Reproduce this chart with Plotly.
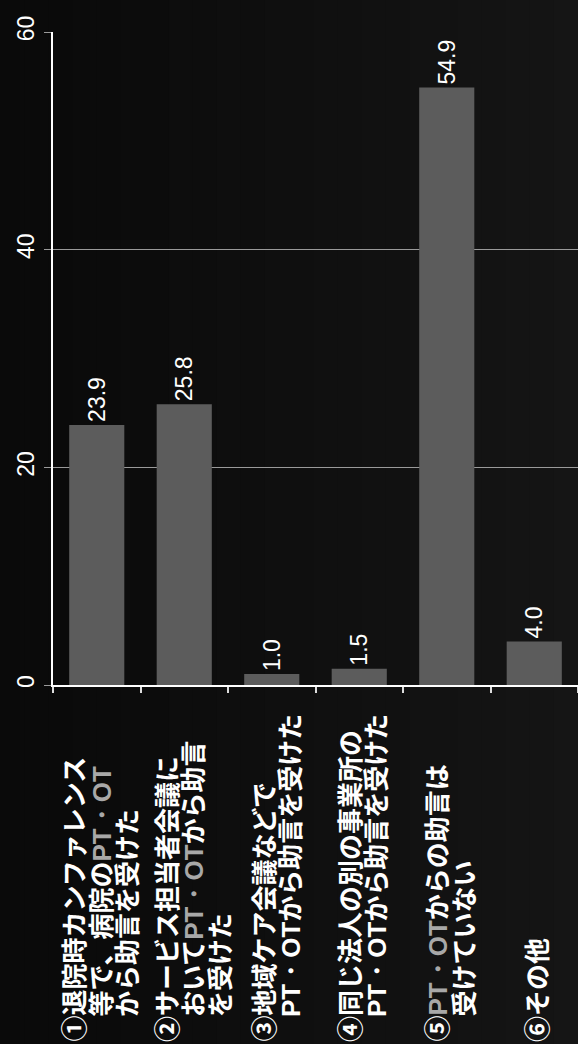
import plotly.graph_objects as go

categories = ["①", "②", "③", "④", "⑤", "⑥"]
values = [23.9, 25.8, 1.0, 1.5, 54.9, 4.0]
value_labels = ["23.9", "25.8", "1.0", "1.5", "54.9", "4.0"]
y_ticks = [0, 20, 40, 60]

PTOT_G = ("<span style='color:#a8a8a8;font-family:Liberation Sans Narrow, Arial Narrow, sans-serif;"
          "font-weight:bold'>PT・OT</span>")
PTOT_W = ("<span style='font-family:Liberation Sans Narrow, Arial Narrow, sans-serif;"
          "font-weight:bold'>PT・OT</span>")
label_lines = [
    ["①退院時カンファレンス", "等で、病院の" + PTOT_G, "から助言を受けた"],
    ["②サービス担当者会議に", "おいて" + PTOT_G + "から助言", "を受けた"],
    ["③地域ケア会議などで", PTOT_W + "から助言を受けた"],
    ["④同じ法人の別の事業所の", PTOT_W + "から助言を受けた"],
    ["⑤" + PTOT_G + "からの助言は", "受けていない"],
    ["⑥その他"],
]
label_first_x = [72, 165, 262, 348, 435, 535]

W_FIG, H_FIG = 578, 1044
L, R, T, B = 53, 578, 32, 685
PW, PH = R - L, B - T

def px_x(x):
    return (x - L) / PW

def px_y(y):
    return (B - y) / PH

fig = go.Figure()
fig.add_trace(go.Bar(
    x=categories, y=values,
    marker=dict(color="#5c5c5c", line=dict(width=0)),
    text=value_labels, textposition="outside", textangle=-90,
    textfont=dict(family="Liberation Sans, Arial", size=23, color="white"),
    constraintext="none", cliponaxis=False,
))

# background gradient stripes
shapes = []
n = 24
x0p = px_x(0)
x1p = px_x(W_FIG)
for i in range(n):
    g = int(10 + (21 - 10) * i / (n - 1))
    shapes.append(dict(
        type="rect", xref="paper", yref="paper", layer="below",
        x0=x0p + (x1p - x0p) * i / n, x1=x0p + (x1p - x0p) * (i + 1) / n + 0.002,
        y0=px_y(H_FIG), y1=px_y(0),
        fillcolor=f"rgb({g},{g},{g})", line=dict(width=0),
    ))

annotations = []
LINE_SP = 26.5
for lines, fx in zip(label_lines, label_first_x):
    for j, line in enumerate(lines):
        ystart = 1043 if j == 0 else 1018
        annotations.append(dict(
            text=line, textangle=-90, showarrow=False,
            xref="paper", yref="paper",
            x=px_x(fx + j * LINE_SP), y=px_y(ystart),
            xanchor="center", yanchor="bottom",
            font=dict(family="Noto Sans CJK JP", size=26, color="white", weight="bold"),
            borderpad=0,
        ))

fig.update_layout(
    width=W_FIG, height=H_FIG,
    margin=dict(l=L, r=W_FIG - R, t=T, b=H_FIG - B, pad=0),
    paper_bgcolor="#0f0f0f", plot_bgcolor="rgba(0,0,0,0)",
    bargap=0.37, showlegend=False,
    shapes=shapes, annotations=annotations,
    xaxis=dict(
        showticklabels=False, showgrid=False, zeroline=False,
        showline=True, linecolor="white", linewidth=1.5,
        ticks="outside", tickson="boundaries", ticklen=6, tickcolor="#dddddd", tickwidth=1.5,
    ),
    yaxis=dict(
        range=[0, 60], tickvals=y_ticks, ticktext=[str(v) for v in y_ticks],
        tickangle=-90, tickfont=dict(family="Liberation Sans, Arial", size=23, color="white"),
        showgrid=True, gridcolor="#9a9a9a", gridwidth=1, zeroline=False,
        showline=True, linecolor="white", linewidth=1.5,
        ticks="outside", ticklen=7, tickcolor="#9a9a9a", ticklabelstandoff=1,
    ),
)

fig.write_html(
    "out.html",
    config={"displayModeBar": False},
    post_script="document.body.style.margin='0';document.body.style.overflow='hidden';",
)
